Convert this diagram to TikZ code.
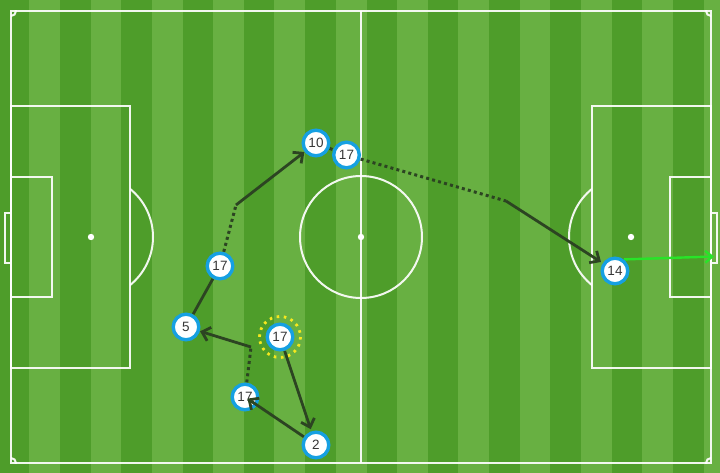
\documentclass[tikz,border=0pt]{standalone}
\usepackage{fontspec}
\setmainfont{Liberation Sans}
\usetikzlibrary{arrows.meta}
\definecolor{grassL}{RGB}{104,176,66}
\definecolor{grassD}{RGB}{78,157,42}
\definecolor{pblue}{RGB}{22,160,226}
\definecolor{passc}{RGB}{44,68,34}
\definecolor{numc}{RGB}{55,55,55}
\definecolor{ringc}{RGB}{245,232,30}
\definecolor{shotc}{RGB}{40,228,40}
\tikzset{
  pline/.style={draw=white, line width=2pt, opacity=0.92},
  player/.style={circle, draw=pblue, line width=3.4pt, fill=white, minimum size=25.6pt, inner sep=0pt, font=\fontsize{13.5}{13.5}\selectfont, text=numc},
  pass/.style={draw=passc, line width=2.8pt, -{Straight Barb[length=7.5pt,width=14pt,line width=2.8pt]}},
  run/.style={draw=passc, line width=2.8pt},
  carry/.style={draw=passc, line width=3pt, dash pattern=on 3pt off 3.2pt},
  shot/.style={draw=shotc, line width=2.4pt, -{Straight Barb[length=7pt,width=12pt,line width=2.4pt]}},
  ring/.style={draw=ringc, line width=2.8pt, dash pattern=on 2.6pt off 4.56pt}
}
\begin{document}
\begin{tikzpicture}[x=1pt,y=-1pt]
\useasboundingbox (0,0) rectangle (720,473);
% grass
\fill[grassL] (0,0) rectangle (720,473);
\foreach \k in {-1,...,10} \fill[grassD] ({60+61.3*\k},0) rectangle ++(30.5,473);
% pitch markings
\draw[pline] (11,11) rectangle (711,463);
\draw[pline] (361,11) -- (361,463);
\draw[pline] (361,237) circle (61);
\fill[white] (361,237) circle (3.2);
\draw[pline] (11,106.5) rectangle (130,367.5);
\draw[pline] (11,177) rectangle (52,297);
\draw[pline] (11,213) rectangle (5,263);
\fill[white] (91,237) circle (3.2);
\draw[pline] (711,106.5) rectangle (592,367.5);
\draw[pline] (711,177) rectangle (670,297);
\draw[pline] (711,213) rectangle (717,263);
\fill[white] (631,237) circle (3.2);
\begin{scope}
\clip (130,0) rectangle (300,473);
\draw[pline] (91,237) circle (62);
\end{scope}
\begin{scope}
\clip (592,0) rectangle (420,473);
\draw[pline] (631,237) circle (62);
\end{scope}
\begin{scope}
\clip (11,11) rectangle (711,463);
\draw[pline] (11,11) circle (5);
\draw[pline] (711,11) circle (5);
\draw[pline] (11,463) circle (5);
\draw[pline] (711,463) circle (5);
\end{scope}
% waypoints
\coordinate (cA) at (251,347);
\coordinate (cB) at (236,205);
\coordinate (cC) at (506,201);
\coordinate (goal) at (714,256.5);
% players (positions)
\path (280,337) coordinate (pr17)
      (316,445) coordinate (p2)
      (245,397) coordinate (pl17)
      (186,327) coordinate (p5)
      (220,266) coordinate (pf17)
      (316,143) coordinate (p10)
      (346.5,155) coordinate (pm17)
      (615,271) coordinate (p14);
% ring
\draw[ring] (pr17) circle (20.5);
% node shapes for connector anchoring
\begin{scope}[every node/.style={circle, minimum size=29pt, inner sep=0pt}]
\node (r17) at (pr17) {};
\node (n2) at (p2) {};
\node (l17) at (pl17) {};
\node (n5) at (p5) {};
\node (f17) at (pf17) {};
\node (n10) at (p10) {};
\node (m17) at (pm17) {};
\node (n14) at (p14) {};
\end{scope}
% connectors under players
\draw[pass, shorten >=2pt] (r17) -- (n2);
\draw[carry] (l17) -- (cA);
\draw[pass] (cA) -- (n5);
\draw[run] (n5) -- (f17);
\draw[carry] (f17) -- (cB);
\draw[pass] (cB) -- (n10);
\draw[carry] (n10) -- (m17);
\draw[carry] (m17) -- (cC);
\draw[pass, shorten >=2pt] (cC) -- (n14);
\draw[shot] (n14.52) -- (goal);
% players
\node[player] at (pr17) {17};
\node[player] at (p2) {2};
\node[player] at (pl17) {17};
\node[player] at (p5) {5};
\node[player] at (pf17) {17};
\node[player] at (p10) {10};
\node[player] at (pm17) {17};
\node[player] at (p14) {14};
% pass drawn on top
\draw[pass, shorten >=3pt] (n2) -- (l17.center);
\end{tikzpicture}
\end{document}
